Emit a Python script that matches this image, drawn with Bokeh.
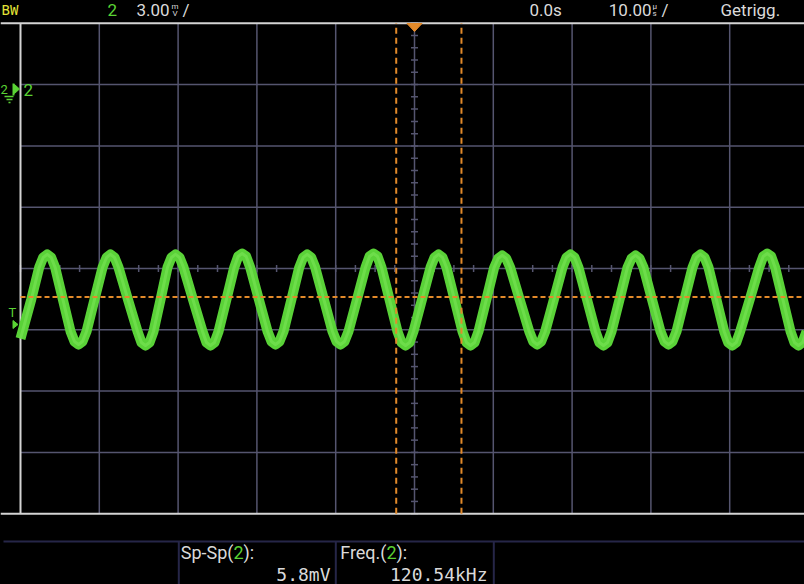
import numpy as np
from bokeh.plotting import figure
from bokeh.models import Range1d
from bokeh.core.properties import value
from bokeh.embed import file_html
from bokeh.resources import INLINE

# ---------------- data ----------------
time_us = [-50.00, -48.64, -47.63, -47.12, -46.61, -46.10, -45.60, -44.62, -43.65, -43.15,
           -42.64, -42.13, -41.62, -40.61, -39.59, -39.07, -38.58, -38.07, -37.56, -36.36,
           -35.15, -34.65, -34.14, -33.63, -33.12, -32.23, -31.35, -30.84, -30.33, -29.82,
           -29.31, -28.11, -26.90, -26.40, -25.89, -25.38, -24.87, -23.87, -22.88, -22.38,
           -21.87, -21.36, -20.85, -19.75, -18.65, -18.15, -17.64, -17.13, -16.62, -15.62,
           -14.63, -14.13, -13.62, -13.11, -12.60, -11.50, -10.41, -9.90, -9.39, -8.88,
           -8.38, -7.30, -6.22, -5.71, -5.20, -4.69, -4.19, -3.17, -2.16, -1.65,
           -1.14, -0.63, -0.13, 0.95, 2.03, 2.54, 3.05, 3.56, 4.06, 5.08,
           6.09, 6.60, 7.11, 7.62, 8.12, 9.12, 10.11, 10.62, 11.13, 11.64,
           12.14, 13.35, 14.56, 15.06, 15.57, 16.08, 16.59, 17.69, 18.78, 19.29,
           19.80, 20.31, 20.81, 21.89, 22.97, 23.47, 23.98, 24.49, 25.00, 26.02,
           27.03, 27.54, 28.05, 28.56, 29.06, 30.14, 31.22, 31.72, 32.23, 32.74,
           33.25, 34.26, 35.28, 35.78, 36.29, 36.80, 37.31, 38.31, 39.30, 39.81,
           40.32, 40.83, 41.33, 42.54, 43.74, 44.25, 44.76, 45.27, 45.77, 46.75,
           47.72, 48.22, 48.73, 49.24, 49.75]
signal_mV = [-3.43, -1.52, 0.05, 0.54, 0.69, 0.54, 0.05, -1.52, -3.08, -3.57,
             -3.72, -3.57, -3.08, -1.52, 0.05, 0.54, 0.69, 0.54, 0.05, -1.52,
             -3.08, -3.62, -3.77, -3.62, -3.08, -1.52, 0.05, 0.54, 0.69, 0.54,
             0.05, -1.52, -3.08, -3.62, -3.77, -3.62, -3.08, -1.52, 0.05, 0.59,
             0.73, 0.59, 0.05, -1.52, -3.08, -3.57, -3.72, -3.57, -3.08, -1.52,
             0.05, 0.54, 0.69, 0.54, 0.05, -1.52, -3.08, -3.57, -3.72, -3.57,
             -3.08, -1.52, 0.05, 0.59, 0.73, 0.59, 0.05, -1.52, -3.08, -3.62,
             -3.77, -3.62, -3.08, -1.52, 0.05, 0.54, 0.69, 0.54, 0.05, -1.52,
             -3.08, -3.62, -3.77, -3.62, -3.08, -1.52, 0.05, 0.49, 0.64, 0.49,
             0.05, -1.52, -3.08, -3.57, -3.72, -3.57, -3.08, -1.52, 0.05, 0.54,
             0.69, 0.54, 0.05, -1.52, -3.08, -3.62, -3.77, -3.62, -3.08, -1.52,
             0.05, 0.49, 0.64, 0.49, 0.05, -1.52, -3.08, -3.57, -3.72, -3.57,
             -3.08, -1.52, 0.05, 0.54, 0.69, 0.54, 0.05, -1.52, -3.08, -3.62,
             -3.77, -3.62, -3.08, -1.52, 0.05, 0.59, 0.73, 0.59, 0.05, -1.52,
             -3.08, -3.62, -3.77, -3.62, -3.08]

cursor_t_us = [-2.32, 5.96]
trigger_level_mV = -1.40
mV_per_div = 3.0
us_per_div = 10.0
n_div_x = 10
n_div_y = 8

channel = "2"
volt_scale = "3.00"
time_offset = "0.0s"
time_scale = "10.00"
trig_state = "Getrigg."
meas1_label = "Sp-Sp("
meas1_value = "5.8mV"
meas2_label = "Freq.("
meas2_value = "120.54kHz"

# ---------------- screen geometry helpers ----------------
PX_PER_US = 78.8 / us_per_div
PX_PER_MV = 61.3 / mV_per_div
CX, CY = 414.0, 268.0


def X(px):
    return (px - CX) / PX_PER_US


def Y(py):
    return (CY - py) / PX_PER_MV


W, H = 804, 584
p = figure(width=W, height=H, output_backend="svg", toolbar_location=None,
           x_range=Range1d(X(0), X(W)), y_range=Range1d(Y(H), Y(0)),
           x_axis_type=None, y_axis_type=None, min_border=0,
           background_fill_color="#000000", border_fill_color="#000000",
           outline_line_color=None)
p.grid.visible = False

t_half = us_per_div * n_div_x / 2
v_half = mV_per_div * n_div_y / 2
t_right = X(W + 6)

GRID = "#55556f"
# grid lines
vg = np.arange(-t_half + us_per_div, t_half, us_per_div)
p.segment(x0=vg, y0=-v_half, x1=vg, y1=v_half, line_color=GRID, line_width=1.5)
hg = np.arange(-v_half + mV_per_div, v_half, mV_per_div)
p.segment(x0=-t_half, y0=hg, x1=t_right, y1=hg, line_color=GRID, line_width=1.5)

# minor ticks on center lines
tk = np.arange(-t_half, t_half + 2.6, us_per_div / 4)
dv = 3.5 / PX_PER_MV
p.segment(x0=tk, y0=-dv, x1=tk, y1=dv, line_color=GRID, line_width=1.5)
vk = np.arange(-v_half, v_half + 0.01, mV_per_div / 5)
dt = 3.5 / PX_PER_US
p.segment(x0=-dt, y0=vk, x1=dt, y1=vk, line_color=GRID, line_width=1.5)

# white screen borders
WHITE = "#d4d4d4"
p.segment(x0=[X(0), X(0)], y0=[v_half, -v_half], x1=[X(W), X(W)], y1=[v_half, -v_half],
          line_color=WHITE, line_width=2)
p.segment(x0=[-t_half], y0=[-v_half], x1=[-t_half], y1=[v_half], line_color=WHITE, line_width=2)

# trace (noisy band)
p.line(time_us, signal_mV, line_color="#5ad238", line_width=10, line_join="round")
p.line(time_us, signal_mV, line_color="#86ec62", line_width=3, line_alpha=0.45, line_join="round")

# cursors
ORANGE = "#e38a2a"
p.segment(x0=cursor_t_us, y0=-v_half, x1=cursor_t_us, y1=v_half, line_color=ORANGE,
          line_width=2, line_dash="6 4")
p.segment(x0=[-t_half], y0=[trigger_level_mV], x1=[t_right], y1=[trigger_level_mV],
          line_color=ORANGE, line_width=2, line_dash="5 3")
# trigger position marker
p.patch([X(406.5), X(421.5), X(414)], [Y(23), Y(23), Y(31)], color=ORANGE)

# bottom info panel lines
NAVY = "#262648"
p.segment(x0=[X(3)], y0=[Y(541)], x1=[X(W)], y1=[Y(541)], line_color=NAVY, line_width=2)
sx = [X(178.3), X(335.3), X(493.3)]
p.segment(x0=sx, y0=Y(541), x1=sx, y1=Y(H + 5), line_color=NAVY, line_width=2)

GREEN = "#5ad334"
LIGHT = "#dadada"
YELLOW = "#e3e336"


def txt(px, py, s, color, size=17, font="Roboto", align="left"):
    # py is the wanted baseline in screen pixels; compensate the renderer's baseline offset
    p.text(x=[X(px)], y=[Y(py - 0.35 * size)], text=[s], text_color=color,
           text_font=value(font), text_font_size=value(f"{size}px"),
           text_align=align, text_baseline="alphabetic")


# header
txt(1, 14.5, "BW", YELLOW, size=14, font="DejaVu Sans Mono")
txt(107, 15, channel, GREEN)
txt(136, 15, volt_scale, LIGHT)
txt(171, 8.5, "m", LIGHT, size=8)
txt(172, 15.5, "V", LIGHT, size=8)
txt(182, 15, "/", LIGHT)
txt(529, 15, time_offset, LIGHT)
txt(651, 15, time_scale, LIGHT, align="right")
txt(652, 8.5, "µ", LIGHT, size=8)
txt(652, 15.5, "s", LIGHT, size=8)
txt(661, 15, "/", LIGHT)
txt(720, 15, trig_state, LIGHT)

# left markers: channel ground reference
txt(0, 94, channel, GREEN, size=13)
txt(23, 95, channel, GREEN)
p.segment(x0=[X(13)], y0=[Y(83)], x1=[X(13)], y1=[Y(95)], line_color=GREEN, line_width=2)
p.patch([X(14), X(14), X(19)], [Y(84), Y(93), Y(88.5)], color=GREEN)
p.segment(x0=[X(4), X(6), X(8)], y0=[Y(96), Y(99), Y(102)],
          x1=[X(13), X(12), X(10)], y1=[Y(96), Y(99), Y(102)], line_color=GREEN, line_width=1.5)
# trigger level marker
txt(8, 317, "T", GREEN, size=13)
p.patch([X(12.5), X(12.5), X(17.5)], [Y(320), Y(328), Y(324)], color=GREEN)

# measurements
txt(233, 558, meas1_label, LIGHT, size=18, align="right")
txt(233, 558, channel, GREEN, size=18)
txt(243, 558, "):", LIGHT, size=18)
txt(330, 580, meas1_value, LIGHT, size=18, font="DejaVu Sans Mono", align="right")
txt(386, 558, meas2_label, LIGHT, size=18, align="right")
txt(386, 558, channel, GREEN, size=18)
txt(396, 558, "):", LIGHT, size=18)
txt(487, 580, meas2_value, LIGHT, size=18, font="DejaVu Sans Mono", align="right")

template = """
{% block postamble %}
<style>html, body { margin: 0; padding: 0; background: #000000; overflow: hidden; }</style>
{% endblock %}
"""
open("out.html", "w").write(file_html(p, INLINE, "Oszilloskop", template=template))
